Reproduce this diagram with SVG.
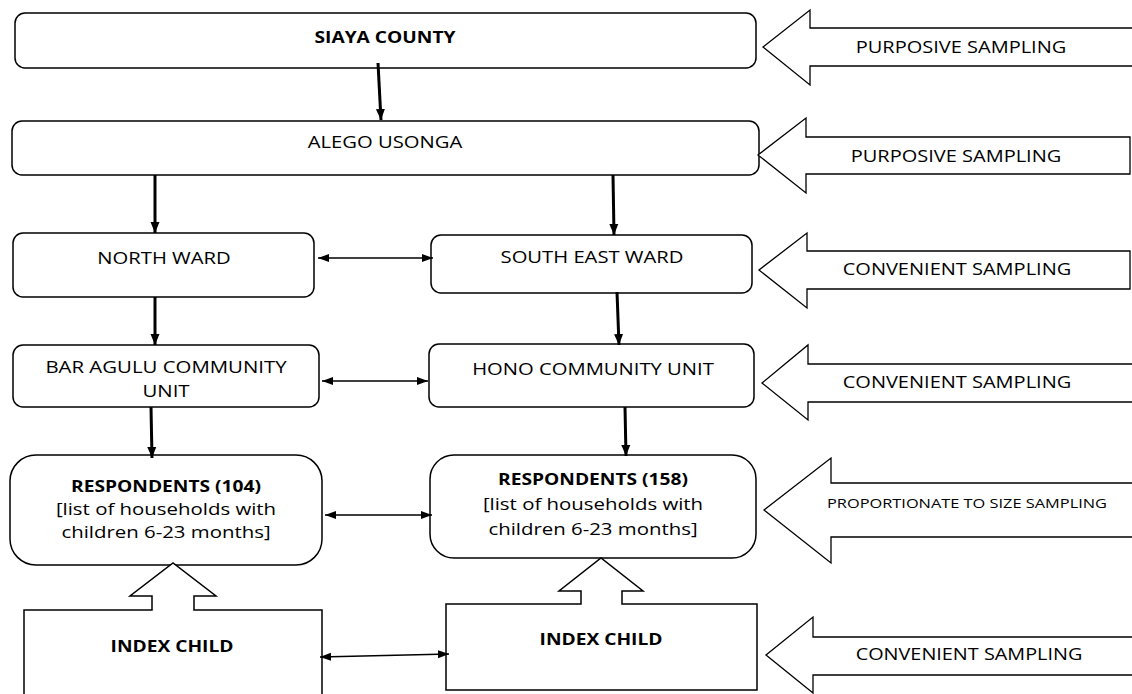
<svg xmlns="http://www.w3.org/2000/svg" width="1132" height="694" viewBox="0 0 1132 694">
<style>
.box{fill:#fff;stroke:#000;stroke-width:1.5}
.blk{fill:#fff;stroke:#000;stroke-width:1.3}
text{font-family:"Open Sans","Liberation Sans",sans-serif;fill:#000;text-anchor:middle}
.t{font-size:17px}
.b{font-size:16px;font-weight:bold}
.l{font-size:17px}
.m{font-size:16px}
.s{font-size:12.5px}
.thick{stroke:#000;stroke-width:3;fill:none}
.thin{stroke:#000;stroke-width:1.5;fill:none}
</style>
<defs>
<marker id="ah" markerUnits="userSpaceOnUse" markerWidth="12" markerHeight="12" viewBox="0 0 12 12" refX="11" refY="6" orient="auto">
<path d="M0,1.5 L11,6 L0,10.5 Z" fill="#000"/>
</marker>
<marker id="as" markerUnits="userSpaceOnUse" markerWidth="12" markerHeight="10" viewBox="0 0 12 10" refX="11" refY="5" orient="auto-start-reverse">
<path d="M0,1 L11,5 L0,9 Z" fill="#000"/>
</marker>
</defs>
<rect width="1132" height="694" fill="#fff"/>

<g id="siaya"><rect class="box" x="15" y="13" width="741" height="55" rx="10"/><text class="b" transform="translate(385,43) scale(1.2,1)">SIAYA COUNTY</text></g>
<g id="alego"><rect class="box" x="12" y="121" width="747" height="54" rx="10"/><text class="t" transform="translate(385,148) scale(1.19,1)">ALEGO USONGA</text></g>
<g id="north"><rect class="box" x="13" y="233" width="301" height="64" rx="10"/><text class="t" transform="translate(164,264) scale(1.19,1)">NORTH WARD</text></g>
<g id="southeast"><rect class="box" x="431" y="235" width="321" height="58" rx="10"/><text class="t" transform="translate(592,263) scale(1.19,1)">SOUTH EAST WARD</text></g>
<g id="baragulu"><rect class="box" x="13" y="345" width="306" height="62" rx="10"/><text class="t" transform="translate(166,373) scale(1.2,1)">BAR AGULU COMMUNITY</text><text class="t" transform="translate(166,397) scale(1.2,1)">UNIT</text></g>
<g id="hono"><rect class="box" x="429" y="344" width="325" height="63" rx="10"/><text class="t" transform="translate(593,375) scale(1.19,1)">HONO COMMUNITY UNIT</text></g>
<g id="resp104"><rect class="box" x="10" y="455" width="312" height="110" rx="26"/><text class="b" transform="translate(166,492) scale(1.2,1)">RESPONDENTS (104)</text><text class="l" transform="translate(166,515) scale(1.2,1)">[list of households with</text><text class="l" transform="translate(166,538) scale(1.2,1)">children 6-23 months]</text></g>
<g id="resp158"><rect class="box" x="430" y="455" width="326" height="103" rx="24"/><text class="b" transform="translate(593,485) scale(1.2,1)">RESPONDENTS (158)</text><text class="l" transform="translate(593,510) scale(1.2,1)">[list of households with</text><text class="l" transform="translate(593,535) scale(1.2,1)">children 6-23 months]</text></g>
<g id="index1"><path class="box" d="M24,700 L24,610 L152,610 L152,596 L130,596 L173,563 L216,596 L194,596 L194,610 L322,610 L322,700"/><text class="b" transform="translate(172,652) scale(1.2,1)">INDEX CHILD</text></g>
<g id="index2"><path class="box" d="M446,690 L446,604 L581,604 L581,591 L559,591 L601,558 L643,591 L622,591 L622,604 L757,604 L757,690 Z"/><text class="b" transform="translate(601,645) scale(1.2,1)">INDEX CHILD</text></g>

<g id="purposive1"><path class="blk" d="M1140,28 L810,28 L810,10 L763,47 L810,85 L810,66 L1140,66"/><text class="m" transform="translate(961,53) scale(1.25,1)">PURPOSIVE SAMPLING</text></g>
<g id="purposive2"><path class="blk" d="M1130,137 L806,137 L806,118 L758,155 L806,193 L806,174 L1130,174 Z"/><text class="m" transform="translate(956,162) scale(1.25,1)">PURPOSIVE SAMPLING</text></g>
<g id="convenient1"><path class="blk" d="M1130,251 L807,251 L807,233 L759,270 L807,308 L807,289 L1130,289 Z"/><text class="m" transform="translate(957,275) scale(1.25,1)">CONVENIENT SAMPLING</text></g>
<g id="convenient2"><path class="blk" d="M1140,364 L808,364 L808,345 L762,383 L808,420 L808,402 L1140,402"/><text class="m" transform="translate(957,388) scale(1.25,1)">CONVENIENT SAMPLING</text></g>
<g id="proportionate"><path class="blk" d="M1140,483 L831,483 L831,458 L764,510 L831,563 L831,537 L1140,537"/><text class="s" transform="translate(967,508) scale(1.31,1)">PROPORTIONATE TO SIZE SAMPLING</text></g>
<g id="convenient3"><path class="blk" d="M1140,637 L813,637 L813,617 L766,655 L813,693 L813,675 L1140,675"/><text class="m" transform="translate(969,660) scale(1.24,1)">CONVENIENT SAMPLING</text></g>

<g id="connectors">
<line class="thick" x1="378" y1="63" x2="381" y2="120" marker-end="url(#ah)"/>
<line class="thick" x1="155" y1="175" x2="155" y2="233" marker-end="url(#ah)"/>
<line class="thick" x1="613" y1="175" x2="614" y2="235" marker-end="url(#ah)"/>
<line class="thick" x1="155" y1="297" x2="155" y2="345" marker-end="url(#ah)"/>
<line class="thick" x1="617" y1="292" x2="619" y2="345" marker-end="url(#ah)"/>
<line class="thick" x1="151" y1="407" x2="152" y2="458" marker-end="url(#ah)"/>
<line class="thick" x1="625" y1="407" x2="626" y2="456" marker-end="url(#ah)"/>
<line class="thin" x1="318" y1="258" x2="433" y2="258" marker-start="url(#as)" marker-end="url(#as)"/>
<line class="thin" x1="322" y1="381" x2="428" y2="381" marker-start="url(#as)" marker-end="url(#as)"/>
<line class="thin" x1="325" y1="515" x2="432" y2="515" marker-start="url(#as)" marker-end="url(#as)"/>
<line class="thin" x1="320" y1="657" x2="449" y2="654" marker-start="url(#as)" marker-end="url(#as)"/>
</g>
</svg>
